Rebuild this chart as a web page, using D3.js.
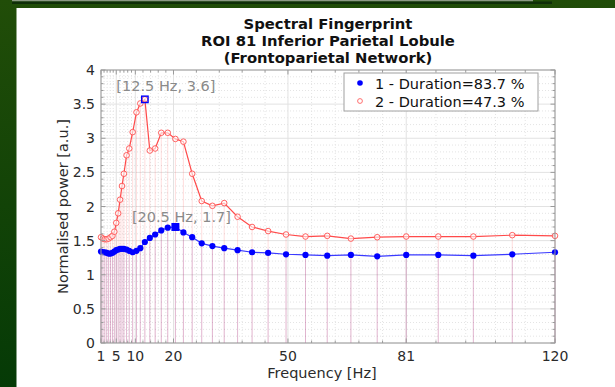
<!DOCTYPE html>
<html>
<head>
<meta charset="utf-8">
<script src="https://cdn.jsdelivr.net/npm/d3@7"></script>
<style>
  html, body { margin: 0; padding: 0; background: #1d4608; }
  svg { display: block; font-family: "DejaVu Sans", sans-serif; }
  .tick-label { font-size: 14px; fill: #2b2b2b; }
  .axis-title { font-size: 14.5px; fill: #2b2b2b; }
  .title { font-size: 14.8px; font-weight: bold; fill: #111; }
  .tip { font-size: 14.5px; fill: #8a8a8a; }
  .legend-text { font-size: 14.5px; fill: #111; }
</style>
</head>
<body>
<div class="chart"></div>
<script>
const freqs = [1, 1.5, 2, 2.5, 3, 3.5, 4, 4.5, 5, 5.5, 6, 6.5, 7, 7.7, 8.4, 9.3, 10.3, 11.3, 12.5, 13.8, 15.2, 16.8, 18.5, 20.5, 22.6, 24.9, 27.4, 30.2, 33.3, 36.8, 40.6, 44.8, 49.5, 54.6, 60.3, 66.5, 73.4, 81, 89.4, 98.6, 108.8, 120];
const state1 = [1.34, 1.33, 1.33, 1.32, 1.31, 1.31, 1.32, 1.34, 1.36, 1.37, 1.38, 1.38, 1.38, 1.37, 1.35, 1.33, 1.35, 1.39, 1.48, 1.54, 1.59, 1.65, 1.69, 1.70, 1.62, 1.55, 1.46, 1.42, 1.39, 1.36, 1.33, 1.32, 1.30, 1.29, 1.28, 1.29, 1.27, 1.29, 1.29, 1.28, 1.30, 1.33];
const state2 = [1.55, 1.53, 1.52, 1.52, 1.53, 1.55, 1.57, 1.63, 1.76, 1.90, 2.10, 2.30, 2.48, 2.75, 2.85, 3.09, 3.38, 3.51, 3.57, 2.82, 2.85, 3.08, 3.08, 2.99, 2.95, 2.48, 2.08, 2.01, 2.05, 1.85, 1.70, 1.64, 1.59, 1.56, 1.57, 1.53, 1.55, 1.56, 1.56, 1.56, 1.58, 1.57];
const legendLabels = ["1 - Duration=83.7 %", "2 - Duration=47.3 %"];
const titleLines = ["Spectral Fingerprint", "ROI 81 Inferior Parietal Lobule", "(Frontoparietal Network)"];
const xTicks = [1, 5, 10, 20, 50, 81, 120];
const yTicks = [0, 0.5, 1, 1.5, 2, 2.5, 3, 3.5, 4];
const tips = [{f: 12.5, v: 3.57, series: 2, text: "[12.5 Hz, 3.6]"}, {f: 20.5, v: 1.70, series: 1, text: "[20.5 Hz, 1.7]"}];

const width = 615, height = 387;
const margin = {left: 101, right: 60, top: 70, bottom: 44};

const svg = d3.select(".chart").append("svg")
    .attr("width", width)
    .attr("height", height);

// background: green slide with white panel
const grad = svg.append("defs").append("linearGradient")
    .attr("id", "bg").attr("x1", 0).attr("y1", 0).attr("x2", 0).attr("y2", 1);
grad.append("stop").attr("offset", 0).attr("stop-color", "#214d08");
grad.append("stop").attr("offset", 1).attr("stop-color", "#053a06");
svg.append("rect").attr("width", width).attr("height", height).attr("fill", "url(#bg)");
svg.append("rect").attr("x", 12).attr("y", 0).attr("width", 521).attr("height", 1.5).attr("fill", "#8c9a84");
svg.append("rect").attr("x", 12).attr("y", 1.5).attr("width", 540).attr("height", 2.5).attr("fill", "#0f2e08");
svg.append("rect").attr("x", 16.5).attr("y", 8).attr("width", width).attr("height", height).attr("fill", "#fff");

const x = d3.scaleLinear()
    .domain([1, 120])
    .range([margin.left, width - margin.right]);

const y = d3.scaleLinear()
    .domain([0, 4])
    .range([height - margin.bottom, margin.top]);

const [x0, x1] = x.range(), [y0, y1] = y.range();

// minor ticks: 5 subdivisions of each major interval on x, 0.1 on y
const xMinor = [];
for (let i = 0; i < xTicks.length - 1; i++) {
  const step = (xTicks[i + 1] - xTicks[i]) / 5;
  for (let k = 1; k < 5; k++) xMinor.push(xTicks[i] + k * step);
}
const yMinor = d3.range(1, 40).map(d => d / 10).filter(d => Math.round(d * 10) % 5 !== 0);

const grid = svg.append("g");
grid.selectAll("line.xminor").data(xMinor).enter().append("line")
    .attr("x1", d => x(d)).attr("x2", d => x(d)).attr("y1", y0).attr("y2", y1)
    .attr("stroke", "#e4e4e4").attr("stroke-dasharray", "1,2");
grid.selectAll("line.yminor").data(yMinor).enter().append("line")
    .attr("x1", x0).attr("x2", x1).attr("y1", d => y(d)).attr("y2", d => y(d))
    .attr("stroke", "#e4e4e4").attr("stroke-dasharray", "1,2");
grid.selectAll("line.xmajor").data(xTicks).enter().append("line")
    .attr("x1", d => x(d)).attr("x2", d => x(d)).attr("y1", y0).attr("y2", y1)
    .attr("stroke", "#e2e2e2");
grid.selectAll("line.ymajor").data(yTicks).enter().append("line")
    .attr("x1", x0).attr("x2", x1).attr("y1", d => y(d)).attr("y2", d => y(d))
    .attr("stroke", "#e2e2e2");

// stems
const stems = svg.append("g");
stems.selectAll("line.s2").data(freqs).enter().append("line")
    .attr("x1", d => x(d)).attr("x2", d => x(d))
    .attr("y1", y(0)).attr("y2", (d, i) => y(state2[i]))
    .attr("stroke", "rgba(255,60,60,0.17)");
stems.selectAll("line.s1").data(freqs).enter().append("line")
    .attr("x1", d => x(d)).attr("x2", d => x(d))
    .attr("y1", y(0)).attr("y2", (d, i) => y(state1[i]))
    .attr("stroke", "rgba(90,0,150,0.18)");

// lines
const line = d3.line().x(d => x(d[0])).y(d => y(d[1]));
const pts1 = freqs.map((f, i) => [f, state1[i]]);
const pts2 = freqs.map((f, i) => [f, state2[i]]);

svg.append("path").datum(pts2).attr("d", line)
    .attr("fill", "none").attr("stroke", "#ff4a4a").attr("stroke-width", 1.2);
svg.append("path").datum(pts1).attr("d", line)
    .attr("fill", "none").attr("stroke", "#3a3aff").attr("stroke-width", 1.2);

svg.selectAll("circle.m2").data(pts2).enter().append("circle")
    .attr("cx", d => x(d[0])).attr("cy", d => y(d[1])).attr("r", 2.8)
    .attr("fill", "rgba(255,255,255,0.6)").attr("stroke", "#ff5050").attr("stroke-width", 0.9);
svg.selectAll("circle.m1").data(pts1).enter().append("circle")
    .attr("cx", d => x(d[0])).attr("cy", d => y(d[1])).attr("r", 3.1)
    .attr("fill", "#0000ff");

// axes box, ticks
const axisColor = "#9a9a9a";
svg.append("rect").attr("x", x0).attr("y", y1).attr("width", x1 - x0).attr("height", y0 - y1)
    .attr("fill", "none").attr("stroke", axisColor);

const tickG = svg.append("g").attr("stroke", axisColor);
const addXTicks = (vals, len) => vals.forEach(v => {
  tickG.append("line").attr("x1", x(v)).attr("x2", x(v)).attr("y1", y0).attr("y2", y0 - len);
  tickG.append("line").attr("x1", x(v)).attr("x2", x(v)).attr("y1", y1).attr("y2", y1 + len);
});
const addYTicks = (vals, len) => vals.forEach(v => {
  tickG.append("line").attr("x1", x0).attr("x2", x0 + len).attr("y1", y(v)).attr("y2", y(v));
  tickG.append("line").attr("x1", x1).attr("x2", x1 - len).attr("y1", y(v)).attr("y2", y(v));
});
addXTicks(xTicks, 4.5); addXTicks(xMinor, 2.5);
addYTicks(yTicks, 4.5); addYTicks(yMinor, 2.5);

svg.selectAll("text.xt").data(xTicks).enter().append("text")
    .attr("class", "tick-label")
    .attr("x", d => x(d)).attr("y", y0 + 18)
    .attr("text-anchor", "middle")
    .text(d => d);
svg.selectAll("text.yt").data(yTicks).enter().append("text")
    .attr("class", "tick-label")
    .attr("x", x0 - 6).attr("y", d => y(d) + 5)
    .attr("text-anchor", "end")
    .text(d => d);

svg.append("text").attr("class", "axis-title")
    .attr("x", (x0 + x1) / 2 - 6).attr("y", y0 + 35)
    .attr("text-anchor", "middle")
    .text("Frequency [Hz]");
svg.append("text").attr("class", "axis-title")
    .attr("transform", "translate(" + [68, (y0 + y1) / 2] + ") rotate(-90)")
    .attr("text-anchor", "middle")
    .text("Normalised power [a.u.]");

svg.selectAll("text.title").data(titleLines).enter().append("text")
    .attr("class", "title")
    .attr("x", (x0 + x1) / 2).attr("y", (d, i) => 29 + i * 17)
    .attr("text-anchor", "middle")
    .text(d => d);

// data tips
tips.forEach(t => {
  const px = x(t.f), py = y(t.v);
  if (t.series === 1) {
    svg.append("rect").attr("x", px - 4).attr("y", py - 4).attr("width", 8).attr("height", 8)
        .attr("fill", "#0000ff");
  } else {
    svg.append("rect").attr("x", px - 3.2).attr("y", py - 3.2).attr("width", 6.4).attr("height", 6.4)
        .attr("fill", "none").attr("stroke", "#0000ff").attr("stroke-width", 1.4);
  }
  svg.append("text").attr("class", "tip")
      .attr("x", px + (t.series === 1 ? 6 : 21)).attr("y", py - (t.series === 1 ? 5 : 8))
      .attr("text-anchor", "middle")
      .text(t.text);
});

// legend
const lg = svg.append("g").attr("transform", "translate(344,73)");
lg.append("rect").attr("width", 194).attr("height", 38)
    .attr("fill", "#fff").attr("stroke", "#a0a0a0");
lg.append("circle").attr("cx", 16).attr("cy", 10).attr("r", 2.8).attr("fill", "#0000ff");
lg.append("circle").attr("cx", 16).attr("cy", 28).attr("r", 2.4)
    .attr("fill", "#fff").attr("stroke", "#ff6060").attr("stroke-width", 0.9);
lg.selectAll("text").data(legendLabels).enter().append("text")
    .attr("class", "legend-text")
    .attr("x", 31).attr("y", (d, i) => 15.5 + i * 18)
    .text(d => d);
</script>
</body>
</html>
